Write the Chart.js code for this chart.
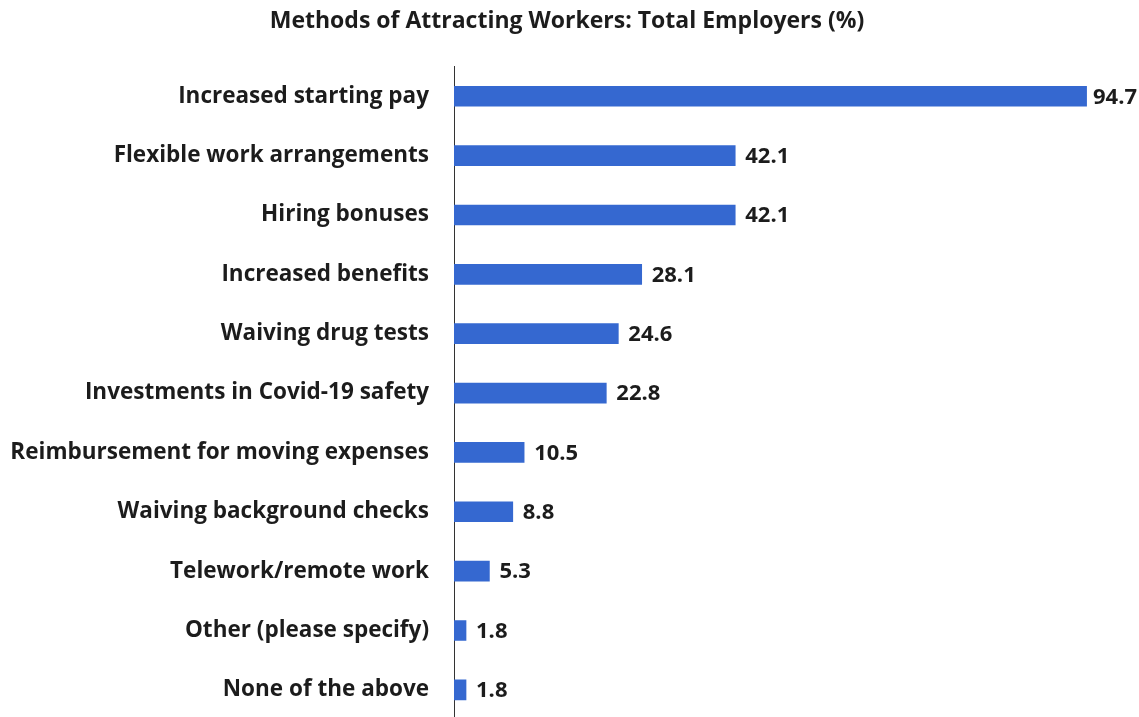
<!DOCTYPE html>
<html>
<head>
<meta charset="utf-8">
<title>Methods of Attracting Workers</title>
<script src="https://cdn.jsdelivr.net/npm/chart.js@4/dist/chart.umd.min.js"></script>
<style>
  html, body { margin: 0; padding: 0; background: #fff; overflow: hidden; }
  /* taller than the window: the bottom row sits right at the page edge */
  #wrap { width: 1139px; height: 758px; position: relative; }
</style>
</head>
<body>
<div id="wrap"><canvas id="bars"></canvas></div>
<script>
const methods = [
  'Increased starting pay',
  'Flexible work arrangements',
  'Hiring bonuses',
  'Increased benefits',
  'Waiving drug tests',
  'Investments in Covid-19 safety',
  'Reimbursement for moving expenses',
  'Waiving background checks',
  'Telework/remote work',
  'Other (please specify)',
  'None of the above',
];
const shares = [94.7, 42.1, 42.1, 28.1, 24.6, 22.8, 10.5, 8.8, 5.3, 1.8, 1.8];

const textColor = '#1c1c1c';
const barColor = '#3568d0';
const labelFont = { family: '"Open Sans", sans-serif', size: 22.5, weight: 'bold' };

// value written just past the end of each bar, pulled back if it would run off the canvas
const valueLabels = {
  id: 'valueLabels',
  afterDatasetsDraw(chart) {
    const ctx = chart.ctx;
    const meta = chart.getDatasetMeta(0);
    ctx.save();
    ctx.font = `${labelFont.weight} 22px ${labelFont.family}`;
    ctx.fillStyle = textColor;
    ctx.textBaseline = 'middle';
    ctx.textAlign = 'left';
    meta.data.forEach((bar, i) => {
      const txt = shares[i].toFixed(1);
      const w = ctx.measureText(txt).width;
      let x = bar.x + 10;
      if (x + w > chart.width - 2) x = chart.width - 2 - w;
      ctx.fillText(txt, x, bar.y + 1);
    });
    ctx.restore();
  },
};

new Chart(document.getElementById('bars'), {
  type: 'bar',
  data: {
    labels: methods,
    datasets: [
      {
        data: shares,
        backgroundColor: barColor,
        barThickness: 20,
      },
    ],
  },
  options: {
    indexAxis: 'y',
    responsive: true,
    maintainAspectRatio: false,
    animation: false,
    layout: { padding: { left: 12, right: 17 } },
    scales: {
      x: {
        display: false,
        min: 0,
        max: 100,
      },
      y: {
        afterFit(scale) { scale.width = 442; },
        grid: { display: false, drawTicks: false },
        border: { display: true, color: '#333', width: 1 },
        ticks: {
          color: textColor,
          font: labelFont,
          padding: 25,
        },
      },
    },
    plugins: {
      legend: { display: false },
      tooltip: { enabled: false },
      title: {
        display: true,
        text: 'Methods of Attracting Workers: Total Employers (%)',
        color: textColor,
        font: { family: '"Open Sans", sans-serif', size: 23, weight: 'bold' },
        padding: { top: 8, bottom: 31 },
      },
    },
  },
  plugins: [valueLabels],
});
</script>
</body>
</html>
